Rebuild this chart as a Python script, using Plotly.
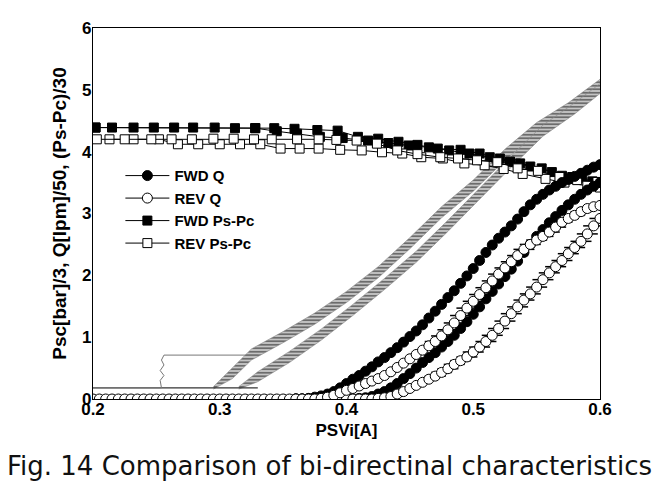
import plotly.graph_objects as go

# ---------------- data ----------------
# Q curves (Q[lpm]/50) on a common x grid
Q_X = [0.360, 0.365, 0.370, 0.375, 0.380, 0.385, 0.390, 0.395, 0.400, 0.405,
       0.410, 0.415, 0.420, 0.425, 0.430, 0.435, 0.440, 0.445, 0.450, 0.455,
       0.460, 0.465, 0.470, 0.475, 0.480, 0.485, 0.490, 0.495, 0.500, 0.505,
       0.510, 0.515, 0.520, 0.525, 0.530, 0.535, 0.540, 0.545, 0.550, 0.555,
       0.560, 0.565, 0.570, 0.575, 0.580, 0.585, 0.590, 0.595, 0.600]
FWD_Q1 = [0.00, 0.00, 0.01, 0.03, 0.05, 0.08, 0.12, 0.18, 0.25, 0.32,
          0.38, 0.45, 0.52, 0.60, 0.67, 0.75, 0.83, 0.92, 1.01, 1.10,
          1.20, 1.31, 1.42, 1.53, 1.64, 1.75, 1.87, 1.99, 2.11, 2.24,
          2.37, 2.49, 2.60, 2.70, 2.80, 2.91, 3.03, 3.14, 3.23, 3.31,
          3.38, 3.44, 3.50, 3.55, 3.60, 3.65, 3.70, 3.75, 3.79]
REV_Q1 = [0.00, 0.00, 0.00, 0.00, 0.01, 0.03, 0.06, 0.10, 0.14, 0.17,
          0.21, 0.25, 0.29, 0.33, 0.38, 0.44, 0.51, 0.58, 0.65, 0.72,
          0.79, 0.86, 0.93, 1.02, 1.12, 1.23, 1.35, 1.47, 1.58, 1.69,
          1.80, 1.91, 2.02, 2.12, 2.22, 2.32, 2.42, 2.50, 2.57, 2.63,
          2.70, 2.78, 2.86, 2.92, 2.97, 3.03, 3.08, 3.11, 3.13]
FWD_Q2 = [0.00, 0.00, 0.00, 0.00, 0.00, 0.00, 0.00, 0.00, 0.00, 0.00,
          0.01, 0.02, 0.04, 0.08, 0.12, 0.18, 0.25, 0.33, 0.41, 0.50,
          0.59, 0.67, 0.75, 0.84, 0.93, 1.03, 1.14, 1.25, 1.37, 1.49,
          1.62, 1.74, 1.86, 1.98, 2.10, 2.23, 2.37, 2.50, 2.63, 2.74,
          2.85, 2.95, 3.05, 3.14, 3.23, 3.31, 3.38, 3.44, 3.50]
REV_Q2 = [0.00, 0.00, 0.00, 0.00, 0.00, 0.00, 0.00, 0.00, 0.00, 0.00,
          0.00, 0.00, 0.00, 0.01, 0.02, 0.04, 0.08, 0.12, 0.17, 0.22,
          0.27, 0.32, 0.37, 0.43, 0.49, 0.56, 0.62, 0.68, 0.76, 0.84,
          0.93, 1.03, 1.14, 1.26, 1.38, 1.49, 1.60, 1.70, 1.81, 1.93,
          2.04, 2.14, 2.24, 2.35, 2.45, 2.55, 2.67, 2.80, 2.92]
# open circles lying on the x axis before the flow starts
Q_ZERO_X = [0.200, 0.205, 0.210, 0.215, 0.220, 0.225, 0.230, 0.235, 0.240, 0.245,
            0.250, 0.255, 0.260, 0.265, 0.270, 0.275, 0.280, 0.285, 0.290, 0.295,
            0.300, 0.305, 0.310, 0.315, 0.320, 0.325, 0.330, 0.335, 0.340, 0.345,
            0.350, 0.355]
Q_ZERO_Y = [0, 0, 0, 0, 0, 0, 0, 0, 0, 0, 0, 0, 0, 0, 0, 0, 0, 0, 0, 0,
            0, 0, 0, 0, 0, 0, 0, 0, 0, 0, 0, 0]

# (Ps-Pc)/30 curves
FWD_PS1_X = [0.202, 0.215, 0.232, 0.248, 0.264, 0.279, 0.296, 0.312, 0.328, 0.343,
             0.359, 0.377, 0.393, 0.409, 0.425, 0.441, 0.456, 0.472, 0.490, 0.505,
             0.521, 0.537, 0.554, 0.570, 0.586, 0.598]
FWD_PS1_Y = [4.39, 4.39, 4.39, 4.39, 4.39, 4.39, 4.39, 4.38, 4.38, 4.38,
             4.37, 4.35, 4.34, 4.24, 4.21, 4.16, 4.11, 4.05, 4.03, 3.97,
             3.89, 3.81, 3.73, 3.61, 3.58, 3.51]
FWD_PS2_X = [0.202, 0.328, 0.345, 0.361, 0.379, 0.397, 0.417, 0.433, 0.449, 0.465,
             0.481, 0.497, 0.513, 0.529, 0.545, 0.562, 0.578, 0.594]
FWD_PS2_Y = [4.39, 4.38, 4.33, 4.29, 4.24, 4.22, 4.18, 4.14, 4.10, 4.07,
             4.02, 3.97, 3.91, 3.84, 3.76, 3.67, 3.59, 3.52]
REV_PS1_X = [0.203, 0.225, 0.246, 0.262, 0.278, 0.295, 0.311, 0.327, 0.341, 0.361,
             0.378, 0.392, 0.408, 0.424, 0.440, 0.456, 0.474, 0.488, 0.503, 0.519,
             0.535, 0.551, 0.568, 0.582, 0.598]
REV_PS1_Y = [4.20, 4.20, 4.20, 4.20, 4.20, 4.21, 4.21, 4.20, 4.20, 4.20,
             4.20, 4.19, 4.18, 4.13, 4.02, 3.96, 3.91, 3.89, 3.86, 3.83,
             3.73, 3.69, 3.59, 3.54, 3.51]
REV_PS2_X = [0.213, 0.232, 0.252, 0.267, 0.283, 0.300, 0.316, 0.332, 0.348, 0.363,
             0.378, 0.395, 0.412, 0.428, 0.444, 0.459, 0.476, 0.493, 0.509, 0.524,
             0.539, 0.557, 0.572, 0.590, 0.600]
REV_PS2_Y = [4.20, 4.20, 4.20, 4.12, 4.12, 4.12, 4.12, 4.12, 4.05, 4.05,
             4.05, 4.03, 4.02, 3.99, 3.97, 3.91, 3.89, 3.81, 3.78, 3.72,
             3.64, 3.56, 3.50, 3.45, 3.42]

# Psc[bar]/3 traces (dense hatched bands)
PSC1_X = [0.295, 0.310, 0.325, 0.350, 0.375, 0.400, 0.425, 0.450, 0.475, 0.500,
          0.525, 0.550, 0.575, 0.600]
PSC1_LO = [0.16, 0.33, 0.63, 0.91, 1.21, 1.56, 1.96, 2.43, 2.93, 3.36,
           3.86, 4.29, 4.61, 4.99]
PSC1_HI = [0.20, 0.51, 0.81, 1.09, 1.39, 1.74, 2.14, 2.61, 3.11, 3.54,
           4.04, 4.47, 4.79, 5.17]
PSC2_X = [0.315, 0.330, 0.355, 0.380, 0.405, 0.430, 0.455, 0.480, 0.505, 0.530,
          0.555, 0.580, 0.600]
PSC2_LO = [0.16, 0.28, 0.59, 0.95, 1.35, 1.77, 2.21, 2.71, 3.23, 3.75,
           4.25, 4.61, 4.94]
PSC2_HI = [0.20, 0.44, 0.77, 1.13, 1.53, 1.95, 2.39, 2.89, 3.41, 3.93,
           4.43, 4.79, 5.10]
PSC_BASE_X = [0.200, 0.330]
PSC_BASE_Y = [0.18, 0.18]
PSC_STEP_X = [0.200, 0.254, 0.253, 0.256, 0.253, 0.256, 0.254, 0.256, 0.330]
PSC_STEP_Y = [0.18, 0.18, 0.30, 0.38, 0.46, 0.55, 0.63, 0.71, 0.71]

X_TICKS = [0.2, 0.3, 0.4, 0.5, 0.6]
X_TICK_TEXT = ["0.2", "0.3", "0.4", "0.5", "0.6"]
Y_TICKS = [0, 1, 2, 3, 4, 5, 6]

LEGEND_NAMES = ["FWD Q", "REV Q", "FWD Ps-Pc", "REV Ps-Pc"]
X_TITLE = "PSVi[A]"
Y_TITLE = "Psc[bar]/3, Q[lpm]/50, (Ps-Pc)/30"
CAPTION = "Fig. 14 Comparison of bi-directinal characteristics"

# ---------------- figure ----------------
fig = go.Figure()
FAM = "Liberation Sans, Arial, sans-serif"
TICKF = dict(family=FAM, size=17, color="black", weight="bold")
LEGF = dict(family=FAM, size=15, color="black", weight="bold")

# Psc bands: gray band with horizontal hatching
for bx, blo, bhi in [(PSC1_X, PSC1_LO, PSC1_HI), (PSC2_X, PSC2_LO, PSC2_HI)]:
    fig.add_trace(go.Scatter(x=bx, y=blo, mode="lines", line=dict(color="#888", width=0.6),
                             showlegend=False, hoverinfo="skip"))
    fig.add_trace(go.Scatter(x=bx, y=bhi, mode="lines", line=dict(color="#888", width=0.6),
                             fill="tonexty", fillcolor="#c4c4c4",
                             fillpattern=dict(shape="-", fgcolor="black", bgcolor="#c4c4c4",
                                              size=3.5, solidity=0.45),
                             showlegend=False, hoverinfo="skip"))
fig.add_trace(go.Scatter(x=PSC_BASE_X, y=PSC_BASE_Y, mode="lines",
                         line=dict(color="#333", width=1.4), showlegend=False))
fig.add_trace(go.Scatter(x=PSC_STEP_X, y=PSC_STEP_Y, mode="lines",
                         line=dict(color="#777", width=1), showlegend=False))

# hatching along the second pair of Q curves
fig.add_trace(go.Scatter(x=Q_X[22:], y=REV_Q1[22:], mode="markers",
                         marker=dict(symbol="line-ew", size=15, line=dict(color="black", width=1.5)),
                         showlegend=False))
fig.add_trace(go.Scatter(x=Q_X[22:], y=REV_Q2[22:], mode="markers",
                         marker=dict(symbol="line-ew", size=15, line=dict(color="black", width=1.5)),
                         showlegend=False))

line_k = dict(color="black", width=1)
fill_c = dict(symbol="circle", size=10, color="black", line=dict(color="black", width=1))
open_c = dict(symbol="circle", size=10, color="white", line=dict(color="black", width=1))
fill_s = dict(symbol="square", size=9, color="black", line=dict(color="black", width=1))
open_s = dict(symbol="square", size=9, color="white", line=dict(color="black", width=1))

# Ps-Pc
fig.add_trace(go.Scatter(x=FWD_PS2_X, y=FWD_PS2_Y, mode="lines+markers", line=line_k,
                         marker=fill_s, showlegend=False))
fig.add_trace(go.Scatter(x=FWD_PS1_X, y=FWD_PS1_Y, mode="lines+markers", line=line_k,
                         marker=fill_s, name=LEGEND_NAMES[2], legendrank=3))
fig.add_trace(go.Scatter(x=REV_PS2_X, y=REV_PS2_Y, mode="lines+markers", line=line_k,
                         marker=open_s, showlegend=False))
fig.add_trace(go.Scatter(x=REV_PS1_X, y=REV_PS1_Y, mode="lines+markers", line=line_k,
                         marker=open_s, name=LEGEND_NAMES[3], legendrank=4))

# Q
fig.add_trace(go.Scatter(x=Q_X, y=FWD_Q2, mode="lines+markers", line=line_k,
                         marker=fill_c, showlegend=False))
fig.add_trace(go.Scatter(x=Q_X, y=FWD_Q1, mode="lines+markers", line=line_k,
                         marker=fill_c, name=LEGEND_NAMES[0], legendrank=1))
fig.add_trace(go.Scatter(x=Q_X, y=REV_Q2, mode="lines+markers", line=line_k,
                         marker=open_c, showlegend=False))
fig.add_trace(go.Scatter(x=Q_ZERO_X + Q_X, y=Q_ZERO_Y + REV_Q1, mode="lines+markers", line=line_k,
                         marker=open_c, name=LEGEND_NAMES[1], legendrank=2))

fig.update_layout(
    width=661, height=502,
    margin=dict(l=85, r=69, t=11, b=111),
    paper_bgcolor="white", plot_bgcolor="white",
    showlegend=True,
    legend=dict(x=0.054, y=0.646, xanchor="left", yanchor="top", traceorder="normal",
                bgcolor="rgba(0,0,0,0)", font=LEGF, tracegroupgap=0, itemwidth=44),
    xaxis=dict(range=[0.2, 0.6], tickvals=X_TICKS, ticktext=X_TICK_TEXT, ticks="",
               showgrid=False, zeroline=False, showline=True, linecolor="black",
               linewidth=1.3, mirror=True, tickfont=TICKF, ticklabelstandoff=-6,
               title=dict(text=X_TITLE, font=dict(family=FAM, size=17, color="black", weight="bold"),
                          standoff=6)),
    yaxis=dict(range=[0, 6], tickvals=Y_TICKS, ticks="", showgrid=False, zeroline=False,
               showline=True, linecolor="black", linewidth=1.3, mirror=True, tickfont=TICKF,
               ticklabelstandoff=-3,
               title=dict(text=Y_TITLE, font=dict(family=FAM, size=19, color="black", weight="bold"),
                          standoff=10)),
    annotations=[dict(text=CAPTION, xref="paper", yref="paper", x=0.467, y=-0.18,
                      xanchor="center", yanchor="middle", showarrow=False,
                      font=dict(family="DejaVu Sans", size=26, color="#111"))],
)

fig.write_html("out.html")
